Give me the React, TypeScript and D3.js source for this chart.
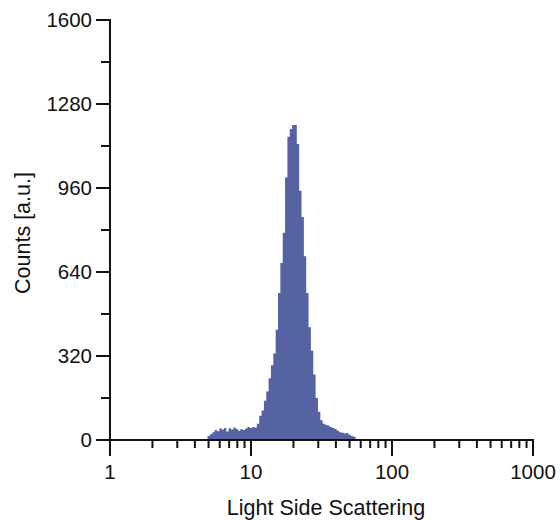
import { useEffect, useRef } from "react";
import * as d3 from "d3";

// histogram channels, log-spaced, starting at binStart with binsPerDecade bins per decade
const binStart = 4.915;
const binsPerDecade = 60;
const counts = [
  15, 22, 30, 38, 33, 44, 40, 46, 32, 45, 40, 48, 42, 35, 42, 38, 44, 50, 46, 50,
  48, 62, 92, 112, 150, 185, 235, 285, 330, 420, 560, 674, 790, 1000, 1155, 1185,
  1200, 1200, 1128, 950, 850, 700, 560, 430, 340, 250, 160, 108, 75, 62, 58, 55,
  50, 46, 42, 35, 30, 28, 25, 27, 20, 15, 12,
];

const yTicks = [0, 320, 640, 960, 1280, 1600];
const yMinorTicks = [160, 480, 800, 1120, 1440];
const xTicks = [1, 10, 100, 1000];
const xLabel = "Light Side Scattering";
const yLabel = "Counts [a.u.]";

function App() {
  const ref = useRef<SVGSVGElement>(null);

  useEffect(() => {
    draw();
    // eslint-disable-next-line
  }, []);

  function draw() {
    const svg = d3.select(ref.current);
    svg.selectAll("*").remove();
    const font = "'Liberation Sans', Arial, sans-serif";

    const x = d3.scaleLog().domain([1, 1000]).range([110, 533]);
    const y = d3.scaleLinear().domain([0, 1600]).range([440, 20]);

    // one point per bin edge; the last edge repeats the last count so the step closes
    const edges = counts.map((c, i) => ({ v: binStart * Math.pow(10, i / binsPerDecade), c }));
    edges.push({
      v: binStart * Math.pow(10, counts.length / binsPerDecade),
      c: counts[counts.length - 1],
    });

    const area = d3.area<{ v: number; c: number }>()
      .x(d => x(d.v))
      .y0(y(0))
      .y1(d => y(d.c))
      .curve(d3.curveStepAfter);

    svg.append("path")
      .datum(edges)
      .attr("d", area)
      .attr("fill", "#5563a2");

    const axis = svg.append("g").attr("stroke", "#111").attr("stroke-width", 2);

    // y axis
    axis.append("line").attr("x1", 110).attr("x2", 110).attr("y1", y(1600) - 1).attr("y2", y(0));
    axis.selectAll(".ymaj").data(yTicks).enter().append("line")
      .attr("x1", 96).attr("x2", 110).attr("y1", d => y(d)).attr("y2", d => y(d));
    axis.selectAll(".ymin").data(yMinorTicks).enter().append("line")
      .attr("x1", 101).attr("x2", 110).attr("y1", d => y(d)).attr("y2", d => y(d));

    // x axis
    const minors: number[] = [];
    [1, 10, 100].forEach(dec => {
      for (let k = 2; k <= 9; k++) minors.push(dec * k);
    });
    axis.append("line").attr("x1", 110).attr("x2", x(1000) + 1).attr("y1", y(0)).attr("y2", y(0));
    axis.selectAll(".xmaj").data(xTicks).enter().append("line")
      .attr("x1", d => x(d)).attr("x2", d => x(d)).attr("y1", y(0)).attr("y2", y(0) + 16);
    axis.selectAll(".xmin").data(minors).enter().append("line")
      .attr("x1", d => x(d)).attr("x2", d => x(d)).attr("y1", y(0)).attr("y2", y(0) + 8);

    svg.selectAll(".ylab").data(yTicks).enter().append("text")
      .attr("x", 92).attr("y", d => y(d)).attr("dy", "0.36em")
      .attr("text-anchor", "end").attr("font-family", font).attr("font-size", 20.5)
      .attr("fill", "#111").text(d => d);

    svg.selectAll(".xlab").data(xTicks).enter().append("text")
      .attr("x", d => x(d)).attr("y", 479)
      .attr("text-anchor", "middle").attr("font-family", font).attr("font-size", 20.5)
      .attr("fill", "#111").text(d => d);

    svg.append("text")
      .attr("x", 326).attr("y", 515)
      .attr("text-anchor", "middle").attr("font-family", font).attr("font-size", 21.5)
      .attr("fill", "#111").text(xLabel);

    svg.append("text")
      .attr("transform", "translate(30,233) rotate(-90)")
      .attr("text-anchor", "middle").attr("font-family", font).attr("font-size", 21.5)
      .attr("fill", "#111").text(yLabel);
  }

  return (
    <div>
      <svg ref={ref} width={560} height={520}
        style={{ position: "absolute", left: 0, top: 0, background: "#fff" }}>
      </svg>
    </div>
  );
}

export default App;
